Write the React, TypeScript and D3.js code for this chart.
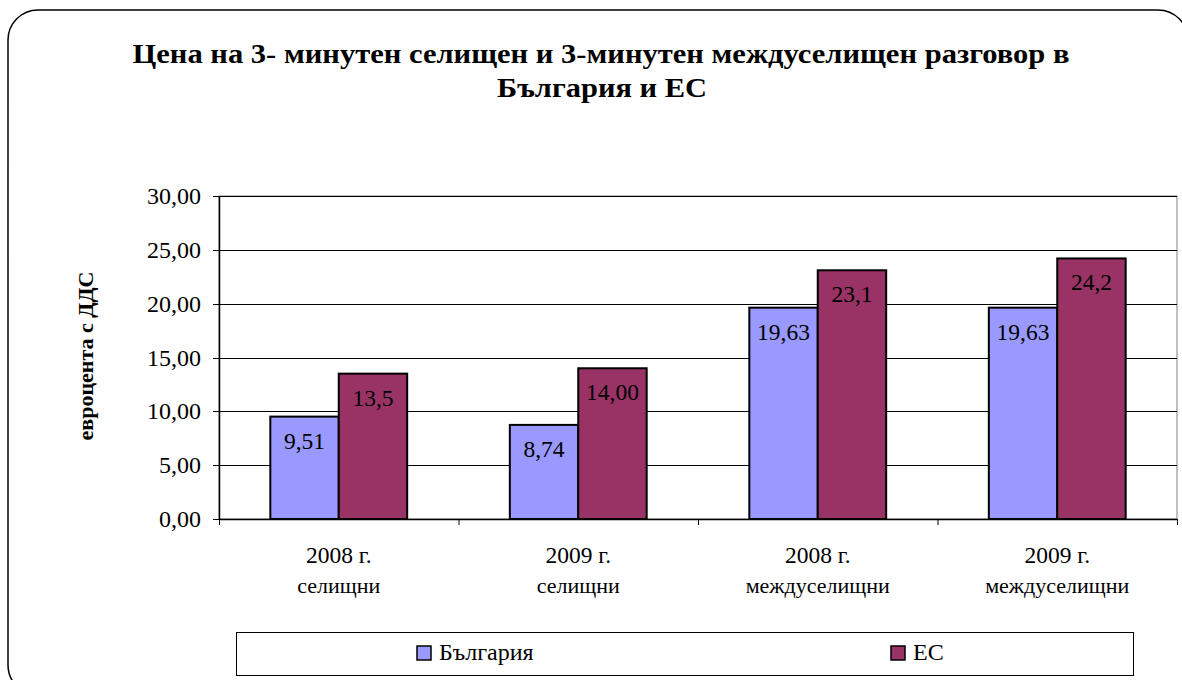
import React from "react";
import * as d3 from "d3";

const categories = ["2008 г.|селищни", "2009 г.|селищни", "2008 г.|междуселищни", "2009 г.|междуселищни"];
const seriesNames = ["България", "ЕС"];
const bulgaria = [9.51, 8.74, 19.63, 19.63];
const eu = [13.5, 14.0, 23.1, 24.2];
const bulgariaLabels = ["9,51", "8,74", "19,63", "19,63"];
const euLabels = ["13,5", "14,00", "23,1", "24,2"];
const yTicks = [0, 5, 10, 15, 20, 25, 30];
const colors = ["#9999FF", "#993366"];

const W = 1182;
const H = 680;
const plot = { left: 219, right: 1177, top: 196, bottom: 519 };
const FONT = "'Liberation Serif', serif";

export default function App() {
  const x0 = d3.scaleBand<string>().domain(categories).range([plot.left, plot.right]).paddingInner(0).paddingOuter(0);
  const x1 = d3.scaleBand<string>().domain(seriesNames).range([0, x0.bandwidth()]).paddingInner(0).paddingOuter(0.75);
  const y = d3.scaleLinear().domain([0, 30]).range([plot.bottom, plot.top]);
  const values = [bulgaria, eu];
  const labels = [bulgariaLabels, euLabels];
  const fmt = (v: number) => v.toFixed(2).replace(".", ",");
  const boundaries = [...categories.map((c) => x0(c)!), plot.right];
  const ts = { fontFamily: FONT } as React.CSSProperties;

  return (
    <svg width={W} height={H} style={{ position: "absolute", left: 0, top: 0, display: "block", fontFamily: FONT }}>
      <rect x={0} y={0} width={W} height={H} fill="#fff" />
      <rect x={8} y={10} width={1180} height={685} rx={30} ry={30} fill="#fff" stroke="#000" strokeWidth={1.5} />
      <text x={601} y={63} textAnchor="middle" fontSize={28} fontWeight="bold" style={ts} textLength={937} lengthAdjust="spacingAndGlyphs">
        Цена на 3- минутен селищен и 3-минутен междуселищен разговор в
      </text>
      <text x={602} y={97} textAnchor="middle" fontSize={28} fontWeight="bold" style={ts} textLength={210} lengthAdjust="spacingAndGlyphs">
        България и ЕС
      </text>

      <rect x={plot.left} y={plot.top} width={plot.right - plot.left} height={plot.bottom - plot.top} fill="#fff" stroke="#808080" strokeWidth={1} />
      {yTicks.filter((t) => t > 0).map((t) => (
        <line key={t} x1={plot.left} x2={plot.right} y1={Math.round(y(t)) + 0.5} y2={Math.round(y(t)) + 0.5} stroke="#000" strokeWidth={1} />
      ))}

      {categories.map((c, i) => (
        <g key={c} transform={`translate(${x0(c)},0)`}>
          {seriesNames.map((s, j) => {
            const v = values[j][i];
            const bx = x1(s)!;
            const bw = x1.bandwidth();
            return (
              <g key={s}>
                <rect x={bx} y={y(v)} width={bw} height={plot.bottom - y(v)} fill={colors[j]} stroke="#000" strokeWidth={2} />
                <text x={bx + bw / 2} y={y(v) + 32} textAnchor="middle" fontSize={23.5} style={ts}>
                  {labels[j][i]}
                </text>
              </g>
            );
          })}
        </g>
      ))}

      <line x1={plot.left + 0.5} x2={plot.left + 0.5} y1={plot.top} y2={plot.bottom} stroke="#000" strokeWidth={1.5} />
      <line x1={plot.left} x2={plot.right} y1={plot.bottom + 0.5} y2={plot.bottom + 0.5} stroke="#000" strokeWidth={1.5} />
      {yTicks.map((t) => (
        <g key={t}>
          <line x1={plot.left - 6} x2={plot.left} y1={Math.round(y(t)) + 0.5} y2={Math.round(y(t)) + 0.5} stroke="#000" />
          <text x={201} y={y(t) + 8} textAnchor="end" fontSize={24} style={ts}>
            {fmt(t)}
          </text>
        </g>
      ))}
      {boundaries.map((b, i) => (
        <line key={i} x1={b + 0.5} x2={b + 0.5} y1={plot.bottom} y2={plot.bottom + 6} stroke="#000" />
      ))}
      {categories.map((c) => {
        const [l1, l2] = c.split("|");
        const cx = x0(c)! + x0.bandwidth() / 2;
        return (
          <g key={c}>
            <text x={cx} y={563} textAnchor="middle" fontSize={23.5} style={ts}>{l1}</text>
            <text x={cx} y={593} textAnchor="middle" fontSize={22} style={ts}>{l2}</text>
          </g>
        );
      })}

      <text transform={`translate(93,356) rotate(-90)`} textAnchor="middle" fontSize={22} fontWeight="bold" style={ts}>
        евроцента с ДДС
      </text>

      <rect x={236.5} y={632.5} width={897} height={43} fill="#fff" stroke="#000" strokeWidth={1} />
      {seriesNames.map((s, j) => {
        const lx = j === 0 ? 417 : 891;
        return (
          <g key={s}>
            <rect x={lx} y={646} width={14} height={14} fill={colors[j]} stroke="#000" strokeWidth={1.5} />
            <text x={lx + 22} y={660} fontSize={24} style={ts}>{s}</text>
          </g>
        );
      })}
    </svg>
  );
}
